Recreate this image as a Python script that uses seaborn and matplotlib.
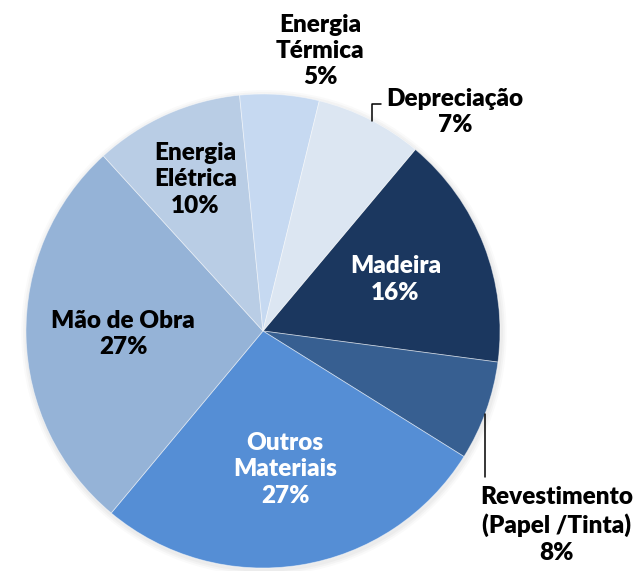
import numpy as np
import matplotlib.pyplot as plt
import matplotlib.patches as mpatches
import seaborn as sns

# dados, em sentido horário a partir de Madeira
categorias = ["Madeira", "Revestimento\n(Papel /Tinta)", "Outros\nMateriais", "Mão de Obra",
              "Energia\nElétrica", "Energia\nTérmica", "Depreciação"]
valores = [16.0, 6.8, 27.2, 27.2, 10.2, 5.4, 7.3]
rotulos_pct = ["16%", "8%", "27%", "27%", "10%", "5%", "7%"]

cores = ["#1B375F", "#375F91", "#558ED5", "#95B3D7", "#B9CDE5", "#C6D9F1", "#DCE6F2"]
cor_texto = ["white", "black", "white", "black", "black", "black", "black"]

sns.set_theme(style="white")
plt.rcParams['font.family'] = ['Lato', 'DejaVu Sans']

W, H = 637, 571
cx, cy, R = 263, 331, 237  # centro e raio da pizza em pixels


def px(x, y):
    # pixel da imagem -> coordenadas do eixo (raio da pizza = 1)
    return (np.asarray(x) - cx) / R, (cy - np.asarray(y)) / R


fig = plt.figure(figsize=(W / 100, H / 100), dpi=100)
ax = fig.add_axes([0, 0, 1, 1])

# sombra suave
for k, a in enumerate([0.05, 0.05, 0.04]):
    ax.add_patch(mpatches.Circle((0.004, -0.008), 1.0 + 0.008 * (k + 1),
                                 color="gray", alpha=a, lw=0, zorder=0))

wedges, _ = ax.pie(valores, colors=cores, startangle=50, counterclock=False,
                   radius=1, center=(0, 0), frame=True,
                   wedgeprops=dict(edgecolor=(1, 1, 1, 0.5), linewidth=0.6))
ax.set_xlim(*px([0, W], [0, 0])[0])
ax.set_ylim(px(0, H)[1], px(0, 0)[1])
ax.set_aspect('equal')
ax.axis('off')

# posição dos rótulos: distância radial ou posição fixa (fora da pizza)
dist = [0.60, None, 0.59, 0.59, 0.70, None, None]
fixos = {1: px(557, 525), 5: px(320, 51), 6: px(455, 112)}

for i, w in enumerate(wedges):
    ang = np.deg2rad((w.theta1 + w.theta2) / 2)
    if i in fixos:
        x, y = fixos[i]
    else:
        x, y = dist[i] * np.cos(ang), dist[i] * np.sin(ang)
    ax.text(x, y, f"{categorias[i]}\n{rotulos_pct[i]}", ha="center", va="center",
            fontsize=17.5, fontweight="heavy", color=cor_texto[i], linespacing=1.25)

# linhas de chamada
ax.plot(*px([372, 372, 381], [121, 104, 104]), color="black", lw=1.1)
ax.plot(*px([485, 485], [414, 477]), color="black", lw=1.1)

fig.savefig("out.png", dpi=100)
